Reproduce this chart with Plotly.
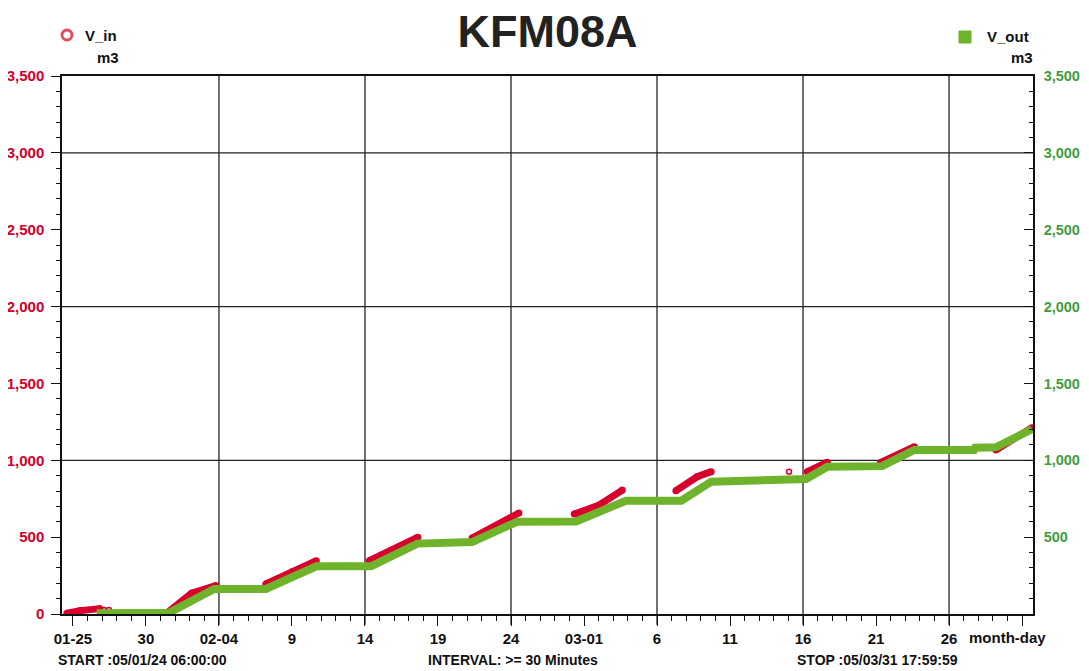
import plotly.graph_objects as go

# ---------------- data ----------------
title_text = "KFM08A"

# V_in (left axis, red) - separate logged segments, None = gap
vin_time = [
    "2005-01-24 14:00", "2005-01-25 12:00", "2005-01-26 20:00", None,
    "2005-01-31 10:00", "2005-02-02 03:00", "2005-02-03 19:00", None,
    "2005-02-07 05:00", "2005-02-09 00:00", "2005-02-10 16:00", None,
    "2005-02-14 07:00", "2005-02-17 15:00", None,
    "2005-02-21 08:00", "2005-02-24 13:00", None,
    "2005-02-28 08:00", "2005-03-02 01:00", "2005-03-03 15:00", None,
    "2005-03-07 07:00", "2005-03-08 18:00", "2005-03-09 17:00", None,
    "2005-03-16 07:00", "2005-03-17 16:00", None,
    "2005-03-21 07:00", "2005-03-23 15:00", None,
    "2005-03-29 05:00", "2005-03-31 16:00",
]
vin_m3 = [
    5, 22, 35, None,
    5, 135, 185, None,
    195, 275, 347, None,
    347, 500, None,
    494, 657, None,
    650, 709, 806, None,
    802, 893, 926, None,
    926, 987, None,
    984, 1088, None,
    1067, 1212,
]
# isolated V_in readings (open markers)
vin_iso_time = ["2005-01-27 03:00", "2005-01-27 11:00", "2005-03-15 01:00"]
vin_iso_m3 = [26, 26, 926]

# V_out (right axis, green)
vout_time = [
    "2005-01-26 15:00", "2005-01-31 14:00", "2005-02-03 16:00", "2005-02-07 05:00",
    "2005-02-10 16:00", "2005-02-14 10:00", "2005-02-17 14:00", "2005-02-21 08:00",
    "2005-02-24 10:00", "2005-02-28 11:00", "2005-03-03 21:00", "2005-03-07 16:00",
    "2005-03-09 17:00", "2005-03-15 06:00", "2005-03-16 05:00", "2005-03-17 16:00",
    "2005-03-21 10:00", "2005-03-23 15:00", "2005-03-27 17:00", "2005-03-27 19:00",
    "2005-03-29 05:00", "2005-03-31 16:30",
]
vout_m3 = [
    5, 8, 163, 163,
    310, 310, 458, 468,
    600, 602, 737, 737,
    861, 875, 878, 958,
    962, 1067, 1067, 1082,
    1084, 1203,
]

# axis ticks
x_tickvals = ["2005-01-25", "2005-01-30", "2005-02-04", "2005-02-09", "2005-02-14",
              "2005-02-19", "2005-02-24", "2005-03-01", "2005-03-06", "2005-03-11",
              "2005-03-16", "2005-03-21", "2005-03-26", "2005-03-31"]
x_ticktext = ["01-25", "30", "02-04", "9", "14", "19", "24", "03-01", "6", "11",
              "16", "21", "26", ""]
x_grid = ["2005-02-04", "2005-02-14", "2005-02-24", "2005-03-06", "2005-03-16", "2005-03-26"]
y_left_ticks = [0, 500, 1000, 1500, 2000, 2500, 3000, 3500]
y_right_ticks = [500, 1000, 1500, 2000, 2500, 3000, 3500]
y_grid = [1000, 2000, 3000]

x_range = ["2005-01-24 06:00", "2005-03-31 18:00"]
y_range = [0, 3500]

RED = "#d8002c"
GREEN = "#6fb22c"
RED_LBL = "#d4002a"
GREEN_LBL = "#3f9d3f"
FONT = "Liberation Sans, Arial, sans-serif"

# page body has an 8px default margin: compensate so the plot lands where intended
OFF = 8
W, H = 1089, 671
PL, PR, PT, PB = 62, 1033, 76, 614   # target plot-area pixel box in the screenshot

# ---------------- figure ----------------
fig = go.Figure()
fig.add_trace(go.Scatter(
    x=vin_time, y=vin_m3, mode="lines+markers", connectgaps=False,
    line=dict(color=RED, width=7), marker=dict(color=RED, size=7),
    name="V_in", showlegend=False))
fig.add_trace(go.Scatter(
    x=vin_iso_time, y=vin_iso_m3, mode="markers",
    marker=dict(symbol="circle-open", color=RED, size=5, line=dict(width=1.5, color=RED)),
    showlegend=False))
fig.add_trace(go.Scatter(
    x=vout_time, y=vout_m3, mode="lines", yaxis="y2",
    line=dict(color=GREEN, width=8), name="V_out", showlegend=False))


def px(xp):
    return (xp - PL) / (PR - PL)


def py(yp):
    return (PB - yp) / (PB - PT)


shapes = []
for g in x_grid:
    shapes.append(dict(type="line", xref="x", yref="paper", x0=g, x1=g, y0=-0.02, y1=1,
                       line=dict(color="#222222", width=1.3), layer="below"))
for g in y_grid:
    shapes.append(dict(type="line", xref="paper", yref="y", x0=0, x1=1, y0=g, y1=g,
                       line=dict(color="#222222", width=1.3), layer="below"))
# legend icons
shapes.append(dict(type="circle", xref="paper", yref="paper", xsizemode="pixel", ysizemode="pixel",
                   xanchor=px(67), yanchor=py(35),
                   x0=-5, x1=5, y0=-5, y1=5, line=dict(color="#e04e5e", width=3)))
shapes.append(dict(type="rect", xref="paper", yref="paper", xsizemode="pixel", ysizemode="pixel",
                   xanchor=px(965), yanchor=py(37),
                   x0=-6, x1=6, y0=-6, y1=6, fillcolor=GREEN, line=dict(color=GREEN, width=1)))

bold = dict(family=FONT, size=15, color="#111111", weight="bold")
bold14 = dict(family=FONT, size=14, color="#111111", weight="bold")
annotations = [
    dict(text="V_in", x=px(83), y=py(35), xanchor="left", yanchor="middle", font=bold),
    dict(text="m3", x=px(95), y=py(57), xanchor="left", yanchor="middle", font=bold),
    dict(text="V_out", x=px(1031), y=py(37), xanchor="right", yanchor="middle", font=bold),
    dict(text="m3", x=px(1035), y=py(57), xanchor="right", yanchor="middle", font=bold),
    dict(text="month-day", x=px(1007), y=py(637), xanchor="center", yanchor="middle", font=bold),
    dict(text="START :05/01/24 06:00:00", x=px(56), y=py(660), xanchor="left", yanchor="middle", font=bold14),
    dict(text="INTERVAL: >= 30 Minutes", x=px(426), y=py(660), xanchor="left", yanchor="middle", font=bold14),
    dict(text="STOP :05/03/31 17:59:59", x=px(795), y=py(660), xanchor="left", yanchor="middle", font=bold14),
]
for a in annotations:
    a.update(xref="paper", yref="paper", showarrow=False)

fig.update_layout(
    width=W, height=H,
    margin=dict(l=PL - OFF, r=W - (PR - OFF), t=PT - OFF, b=H - (PB - OFF), autoexpand=False),
    paper_bgcolor="white", plot_bgcolor="white",
    title=dict(text=title_text, x=0.5, xref="paper", xanchor="center",
               y=1 - (31 - OFF) / H, yref="container", yanchor="middle",
               font=dict(family=FONT, size=45, color="#222222", weight="bold")),
    showlegend=False,
    shapes=shapes, annotations=annotations,
    xaxis=dict(type="date", range=x_range, tickmode="array", tickvals=x_tickvals, ticktext=x_ticktext,
               ticks="outside", ticklen=10, tickwidth=1.3, tickcolor="#111111",
               minor=dict(tickmode="linear", tick0="2005-01-25", dtick=86400000,
                          ticks="outside", ticklen=5, tickwidth=1, tickcolor="#111111", showgrid=False),
               showgrid=False, zeroline=False, showline=True, linecolor="#111111", linewidth=1.5,
               mirror=True, automargin=False,
               tickfont=dict(family=FONT, size=15, color="#111111", weight="bold")),
    yaxis=dict(range=y_range, tickmode="array", tickvals=y_left_ticks, tickformat=",",
               ticks="outside", ticklen=9, tickwidth=1.3, tickcolor="#111111",
               minor=dict(dtick=100, ticks="outside", ticklen=4, tickwidth=1, tickcolor="#111111", showgrid=False),
               showgrid=False, zeroline=False, showline=True, linecolor="#111111", linewidth=1.5,
               ticklabelstandoff=4, automargin=False,
               tickfont=dict(family=FONT, size=15, color=RED_LBL, weight="bold")),
    yaxis2=dict(range=y_range, overlaying="y", side="right", tickmode="array", tickvals=y_right_ticks,
                tickformat=",", ticks="inside", ticklen=9, tickwidth=1.3, tickcolor="#111111",
                minor=dict(dtick=100, ticks="inside", ticklen=4, tickwidth=1, tickcolor="#111111", showgrid=False),
                showgrid=False, zeroline=False, showline=True, linecolor="#111111", linewidth=1.5,
                ticklabelstandoff=6, automargin=False,
                tickfont=dict(family=FONT, size=14.5, color=GREEN_LBL, weight="bold")),
)

fig.write_html("out.html")
